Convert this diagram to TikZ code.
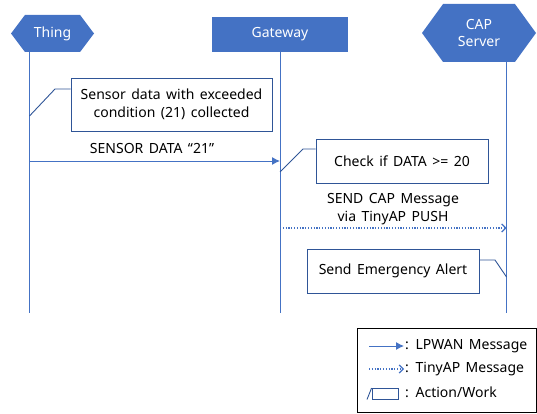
\documentclass[tikz,border=0pt]{standalone}
\usepackage{fontspec}
\setmainfont[WordSpace=1.5]{Noto Sans}
\usetikzlibrary{arrows.meta,shapes.symbols}
\definecolor{capblue}{RGB}{68,114,196}
\definecolor{capedge}{RGB}{47,85,151}

\begin{document}
\begin{tikzpicture}[x=1pt,y=-1pt,font=\fontsize{14}{17.5}\selectfont]
    \tikzstyle{header} = [fill=capblue, text=white, inner sep=0pt, align=center]
    \tikzstyle{hexa} = [header, shape=signal, signal to=west and east]
    \tikzstyle{work} = [rectangle, draw=capedge, line width=0.9pt, fill=white, align=center, inner sep=0pt]
    \tikzstyle{life} = [draw=capblue, line width=0.9pt]
    \tikzstyle{knee} = [draw=capedge, line width=0.9pt]
    \tikzstyle{lpwan} = [draw=capblue, line width=1pt, -{Latex[length=8pt,width=8pt]}]
    \tikzstyle{tinyap} = [draw=capblue, line width=1.2pt, dash pattern=on 1.2pt off 1.6pt, -{Straight Barb[length=4pt,width=8pt,line width=1.2pt]}]
    \tikzstyle{legtext} = [anchor=west, inner sep=1pt]

    \useasboundingbox (0,0) rectangle (537,414);

    % Participants
    \node[hexa, signal pointer angle=106, minimum width=83pt, minimum height=37pt] (thing) at (52.5,33.5) {Thing};
    \node[header, rectangle, minimum width=136pt, minimum height=35pt] (gateway) at (280,34.5) {Gateway};
    \node[hexa, signal pointer angle=108, minimum width=114pt, minimum height=58pt] (cap) at (479,33) {CAP\\Server};

    % Lifelines
    \coordinate (thingtop) at (29.5,52);
    \coordinate (thingend) at (29.5,313);
    \coordinate (gwtop) at (280,52);
    \coordinate (gwend) at (280,313);
    \coordinate (captop) at (506.5,62);
    \coordinate (capend) at (506.5,313);
    \draw[life] (thingtop) -- (thingend);
    \draw[life] (gwtop) -- (gwend);
    \draw[life] (captop) -- (capend);

    % Actions
    \node[work, minimum width=201pt, minimum height=53pt] (collect) at (171.5,104.5) {Sensor data with exceeded\\condition (21) collected};
    \node[work, minimum width=172pt, minimum height=44pt] (check) at (402,161) {Check if DATA >= 20};
    \node[work, minimum width=172pt, minimum height=44pt] (alert) at (393,271) {Send Emergency Alert};

    \coordinate (collectlife) at (29.5,116);
    \coordinate (collectknee) at (55,89);
    \draw[knee] (collectlife) -- (collectknee) -- (collectknee -| collect.west);
    \coordinate (checklife) at (280,172);
    \coordinate (checkknee) at (303,149);
    \draw[knee] (checklife) -- (checkknee) -- (checkknee -| check.west);
    \coordinate (alertlife) at (506.5,277);
    \coordinate (alertknee) at (495,260);
    \draw[knee] (alertlife) -- (alertknee) -- (alertknee -| alert.east);

    % Messages
    \coordinate (sensorfrom) at (29.5,161);
    \coordinate (sensorto) at (280,161);
    \node (sensorlabel) at (152,148) {SENSOR DATA “21”};
    \draw[lpwan] (sensorfrom) -- (sensorto);
    \coordinate (pushfrom) at (280,228);
    \coordinate (pushto) at (506.5,228);
    \node[align=center] (pushlabel) at (393,209) {SEND CAP Message\\via TinyAP PUSH};
    \draw[tinyap] (pushfrom) -- (pushto);

    % Legend
    \node[draw=black, line width=1pt, minimum width=179pt, minimum height=84pt] (legend) at (446.5,370) {};
    \node[legtext] (leg1) at (404,346) {: LPWAN Message};
    \node[legtext] (leg2) at (404,369) {: TinyAP Message};
    \node[legtext] (leg3) at (404,392) {: Action/Work};
    \coordinate (leg1from) at (369,346);
    \coordinate (leg2from) at (369,369);
    \draw[lpwan] (leg1from) -- (leg1.west);
    \draw[tinyap] (leg2from) -- (leg2.west);
    \node[work, minimum width=26pt, minimum height=11pt] (legbox) at (385,394) {};
    \coordinate (legslash) at (367,399.5);
    \draw[knee] (legslash) -- (legbox.north west);
\end{tikzpicture}
\end{document}
